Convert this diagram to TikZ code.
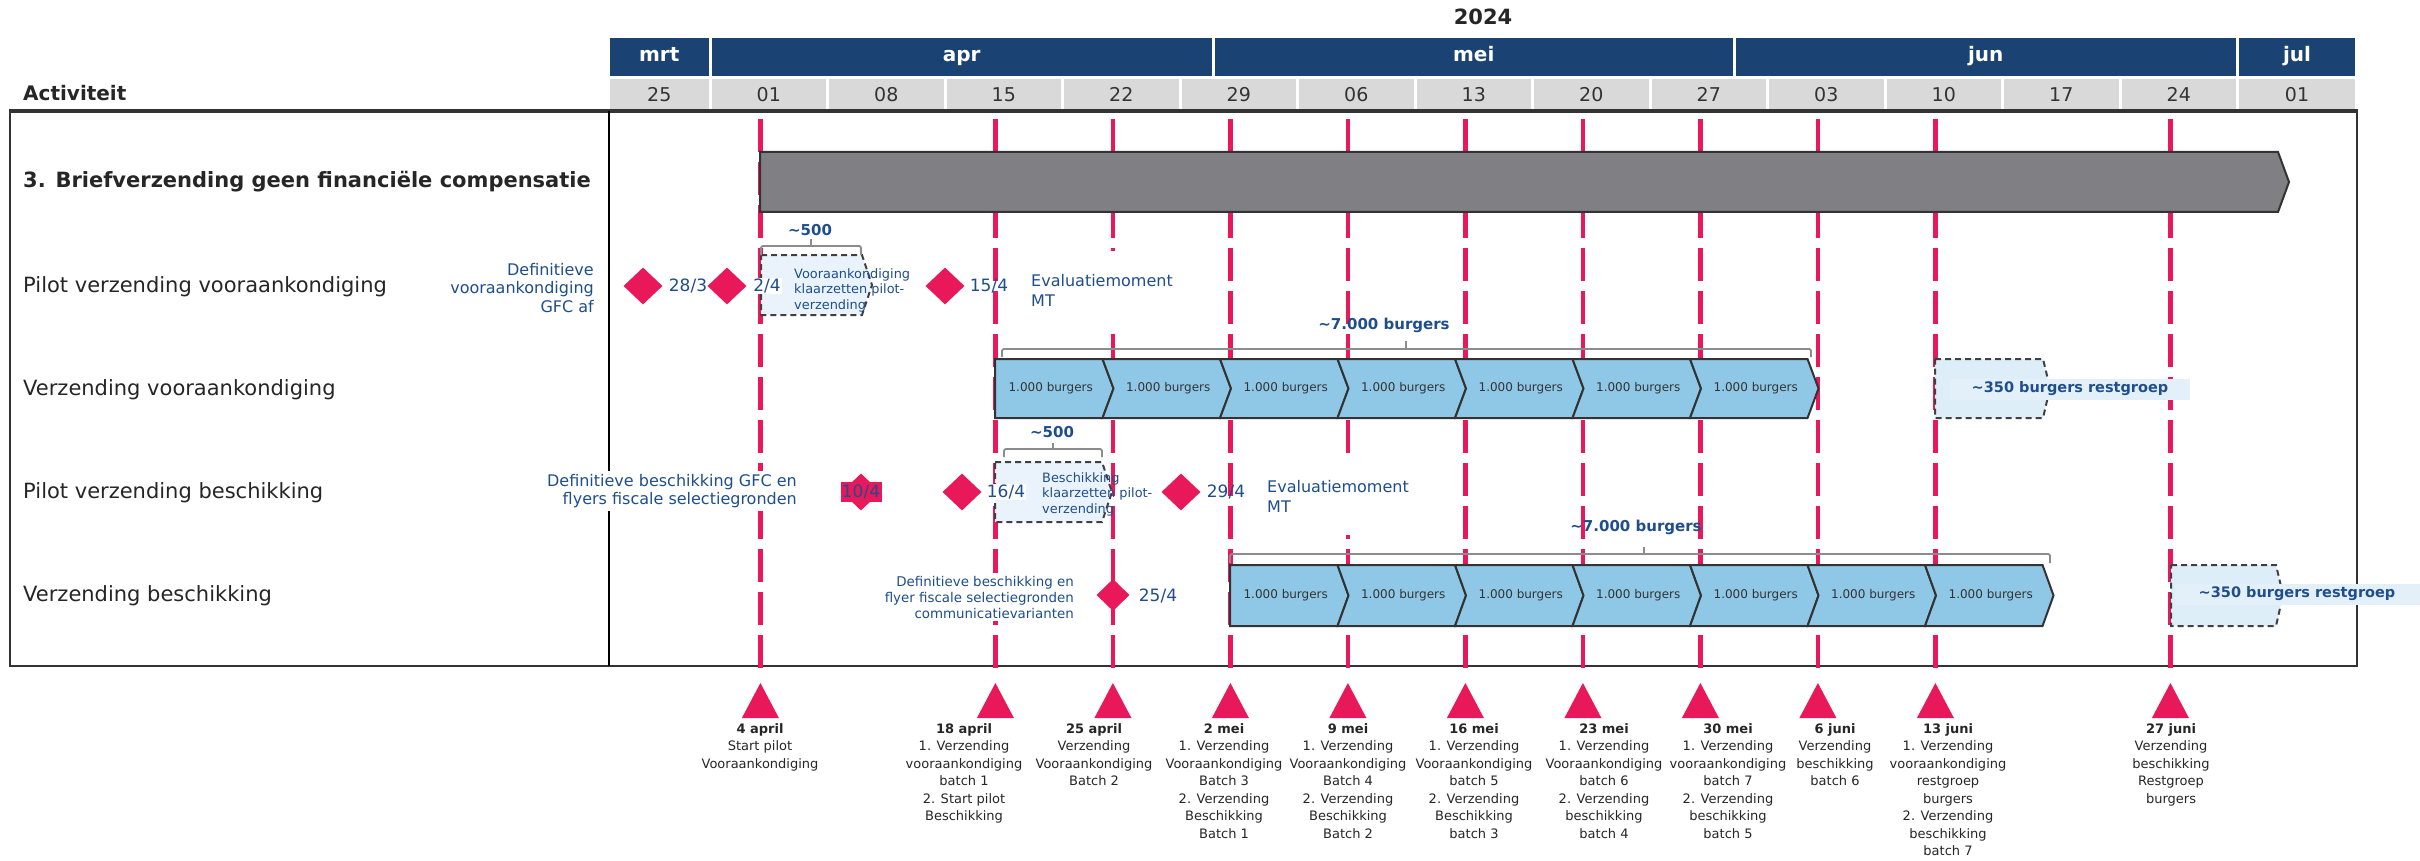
\documentclass[tikz,border=0pt]{standalone}
\usepackage{fontspec}
\setmainfont{DejaVu Sans}
\usetikzlibrary{shapes.geometric}
\definecolor{navy}{HTML}{1A4273}
\definecolor{wkgrey}{HTML}{D9D9D9}
\definecolor{crim}{HTML}{E8185A}
\definecolor{lblue}{HTML}{1F4E8C}
\definecolor{chev}{HTML}{8FC8E6}
\definecolor{pale}{HTML}{EAF3FB}
\definecolor{palebg}{HTML}{DDEEF9}
\definecolor{labbg}{HTML}{E3F0FA}
\definecolor{barg}{HTML}{808084}
\definecolor{txtg}{HTML}{333333}
\definecolor{frameg}{HTML}{333333}
\definecolor{brg}{HTML}{8C8C8C}
\newcommand{\myfs}[2]{\fontsize{#1}{#2}\selectfont}
\newcommand{\chevrow}[4]{%
  \foreach \k in {0,...,6}{%
    \pgfmathsetmacro{\xl}{#1+117.5*\k}%
    \pgfmathsetmacro{\xr}{#1+117.5*(\k+1)}%
    \pgfmathsetmacro{\ym}{(#2+#3)/2}%
    \ifnum\k=0
      \filldraw[chevst] (\xl,#2) -- ({\xr-10},#2) -- ({\xr+1},\ym) -- ({\xr-10},#3) -- (\xl,#3) -- cycle;
    \else
      \filldraw[chevst] ({\xl-10},#2) -- ({\xr-10},#2) -- ({\xr+1},\ym) -- ({\xr-10},#3) -- ({\xl-10},#3) -- ({\xl+1},\ym) -- cycle;
    \fi
    \node[chevtxt] (#4\k) at ({(\xl+\xr)/2-3},\ym) {1.000 burgers};
  }}
\begin{document}
\begin{tikzpicture}[x=1pt,y=-1pt,
  monthcell/.style={fill=navy,text=white,font=\bfseries\myfs{20}{24},minimum height=38,inner sep=0,text height=14,text depth=4},
  wkcell/.style={fill=wkgrey,text=txtg,font=\myfs{19}{23},minimum height=31.5,inner sep=0,text height=14,text depth=0},
  rowlab/.style={anchor=west,text=black!85,font=\myfs{21}{25},inner sep=0},
  redline/.style={draw=crim,line width=4.5,dash pattern=on 33 off 10,dash phase=36},
  chevst/.style={fill=chev,draw=frameg,line width=2},
  chevtxt/.style={text=txtg,font=\myfs{12}{14},inner sep=0},
  ms/.style={diamond,fill=crim,draw=none,inner sep=0,minimum width=39,minimum height=37},
  dlab/.style={text=lblue,font=\myfs{17}{20},inner sep=1},
  note/.style={text=lblue,font=\myfs{16}{18.5},fill=white,inner sep=3},
  eval/.style={text=lblue,font=\myfs{16}{20},fill=white,inner sep=3,anchor=west,align=left,minimum height=78},
  brack/.style={draw=brg,line width=1.8,rounded corners=2},
  btxt/.style={text=lblue,font=\bfseries\myfs{15}{18},inner sep=0},
  pilotbox/.style={fill=pale,draw=black!75,line width=2,dash pattern=on 6 off 4},
  pilottxt/.style={text=lblue,font=\myfs{12.9}{15.5},anchor=west,align=left,inner sep=0},
  restbox/.style={fill=palebg,draw=black!75,line width=2,dash pattern=on 6 off 4},
  resttxt/.style={fill=labbg,text=lblue,font=\bfseries\myfs{14.5}{17},minimum height=21,inner sep=0},
  blab/.style={anchor=north,align=center,text=black!85,font=\myfs{13}{17.5},inner sep=0},
  tri/.style={fill=crim}
]
\useasboundingbox (0,0) rectangle (2420,861);
\fill[white] (0,0) rectangle (2420,861);

% year
\node[font=\bfseries\myfs{21}{25},text=black!85] (year) at (1483,17) {2024};

% month cells
\foreach \lab/\l/\r [count=\i] in {mrt/610/708.5, apr/711.5/1212, mei/1215/1732.5, jun/1735.5/2236, jul/2239/2355}{
  \node[monthcell,minimum width={\r-\l}] (m\i) at ({(\l+\r)/2},57) {\lab};
}
% week cells
\foreach \lab/\l/\r [count=\i] in {25/610/708.5, 01/711.5/826, 08/829/943.5, 15/946.5/1061, 22/1064/1178.5, 29/1181.5/1296, 06/1299/1413.5, 13/1416.5/1531, 20/1534/1648.5, 27/1651.5/1766, 03/1769/1883.5, 10/1886.5/2001, 17/2004/2118.5, 24/2121.5/2236, 01/2239/2355}{
  \node[wkcell,minimum width={\r-\l}] (w\i) at ({(\l+\r)/2},94.5) {\lab};
}
\node[anchor=west,font=\bfseries\myfs{20}{24},text=black!85,inner sep=0] (act) at (23,93) {Activiteit};

% frame
\draw[frameg,line width=2.5] (10,111) -- (10,666) -- (2357,666) -- (2357,111);
\draw[frameg,line width=4] (9,111) -- (2358,111);
\draw[black,line width=1.5] (609,111) -- (609,666);

% red milestone lines
\foreach \x [count=\i] in {760.4,995.4,1112.9,1230.4,1347.9,1465.4,1582.9,1700.4,1817.9,1935.4,2170.4}{
  \coordinate (top\i) at (\x,112);
  \coordinate (bot\i) at (\x,673);
  \draw[redline] (top\i) -- (bot\i);
}

% row labels
\node[rowlab,font=\bfseries\myfs{21}{25}] (r1) at (23,182) {3. Briefverzending geen financiële compensatie};
\node[rowlab] (r2) at (23,287) {Pilot verzending vooraankondiging};
\node[rowlab] (r3) at (23,390) {Verzending vooraankondiging};
\node[rowlab] (r4) at (23,493) {Pilot verzending beschikking};
\node[rowlab] (r5) at (23,596) {Verzending beschikking};

% grey bar
\filldraw[fill=barg,draw=black!80,line width=2] (760,152) -- (2278,152) -- (2289,182) -- (2278,212) -- (760,212) -- cycle;

% ---- row 2: pilot verzending vooraankondiging
\node[note,align=right,anchor=east,minimum height=70] (n2) at (597,288) {Definitieve\\vooraankondiging\\GFC af};
\node[ms] (d1) at (643,286) {};
\node[ms] (d2) at (727,286) {};
\node[dlab] (l1) at (688,286) {28/3};
\filldraw[pilotbox] (761,255) -- (862,255) -- (872,285) -- (862,315) -- (761,315) -- cycle;
\node[dlab,fill=white] (l2) at (767,286) {2/4};
\node[pilottxt] (p1) at (794,290) {Vooraankondiging\\klaarzetten pilot-\\verzending};
\draw[brack] (761,255) -- (761,246) -- (861,246) -- (861,255);
\draw[brack] (811,246) -- (811,239);
\node[btxt] (b1) at (810,230) {\textasciitilde500};
\node[ms] (d3) at (945,286) {};
\node[dlab] (l3) at (989,286) {15/4};
\node[eval] (e1) at (1028,290) {Evaluatiemoment\\MT};

% ---- row 3: verzending vooraankondiging
\draw[brack] (1002,357) -- (1002,349) -- (1811,349) -- (1811,357);
\draw[brack] (1406,349) -- (1406,341);
\node[btxt] (b2) at (1384,325) {\textasciitilde7.000 burgers};
\chevrow{995}{359}{418}{va}
\filldraw[restbox] (1935,359) -- (2043,359) -- (2050,388) -- (2043,418) -- (1935,418) -- cycle;
\node[resttxt,minimum width=240] (rg1) at (2070,389) {\textasciitilde350 burgers restgroep};

% ---- row 4: pilot verzending beschikking
\node[note,align=right,anchor=east] (n4) at (800,491) {Definitieve beschikking GFC en\\flyers fiscale selectiegronden};
\node[ms] (d4) at (861,492) {};
\node[dlab,fill=crim,minimum width=41,minimum height=20,inner sep=0] (l4) at (861,492) {10/4};
\filldraw[pilotbox] (995,462) -- (1102,462) -- (1112,492) -- (1102,522) -- (995,522) -- cycle;
\node[ms] (d5) at (962,492) {};
\node[dlab,fill=white] (l5) at (1006,492) {16/4};
\node[pilottxt] (p2) at (1042,494) {Beschikking\\klaarzetten pilot-\\verzending};
\draw[brack] (1004,457) -- (1004,449) -- (1102,449) -- (1102,457);
\draw[brack] (1053,449) -- (1053,443);
\node[btxt] (b3) at (1052,432) {\textasciitilde500};
\node[ms] (d6) at (1181,492) {};
\node[dlab] (l6) at (1226,492) {29/4};
\node[eval] (e2) at (1264,496) {Evaluatiemoment\\MT};

% ---- row 5: verzending beschikking
\node[note,align=right,anchor=east,font=\myfs{13.4}{16}] (n5) at (1077,597) {Definitieve beschikking en\\flyer fiscale selectiegronden\\communicatievarianten};
\node[ms,minimum width=33,minimum height=32] (d7) at (1113,595) {};
\node[dlab] (l7) at (1158,596) {25/4};
\draw[brack] (1230,563) -- (1230,554) -- (2050,554) -- (2050,563);
\draw[brack] (1644,554) -- (1644,547);
\node[btxt] (b4) at (1636,527) {\textasciitilde7.000 burgers};
\chevrow{1230}{565}{626}{vb}
\filldraw[restbox] (2171,565) -- (2276,565) -- (2283,595) -- (2276,626) -- (2171,626) -- cycle;
\node[resttxt,minimum width=245] (rg2) at (2297,594) {\textasciitilde350 burgers restgroep};

% ---- bottom triangles and labels
\foreach \x in {760.4,995.4,1112.9,1230.4,1347.9,1465.4,1582.9,1700.4,1817.9,1935.4,2170.4}{
  \fill[tri] ({\x-18.5},718) -- (\x,683) -- ({\x+18.5},718) -- cycle;
}
\node[blab] (t1) at (760,723) {\textbf{4 april}\\Start pilot\\Vooraankondiging};
\node[blab] (t2) at (964,723) {\textbf{18 april}\\1. Verzending\\vooraankondiging\\batch 1\\2. Start pilot\\Beschikking};
\node[blab] (t3) at (1094,723) {\textbf{25 april}\\Verzending\\Vooraankondiging\\Batch 2};
\node[blab] (t4) at (1224,723) {\textbf{2 mei}\\1. Verzending\\Vooraankondiging\\Batch 3\\2. Verzending\\Beschikking\\Batch 1};
\node[blab] (t5) at (1348,723) {\textbf{9 mei}\\1. Verzending\\Vooraankondiging\\Batch 4\\2. Verzending\\Beschikking\\Batch 2};
\node[blab] (t6) at (1474,723) {\textbf{16 mei}\\1. Verzending\\Vooraankondiging\\batch 5\\2. Verzending\\Beschikking\\batch 3};
\node[blab] (t7) at (1604,723) {\textbf{23 mei}\\1. Verzending\\Vooraankondiging\\batch 6\\2. Verzending\\beschikking\\batch 4};
\node[blab] (t8) at (1728,723) {\textbf{30 mei}\\1. Verzending\\vooraankondiging\\batch 7\\2. Verzending\\beschikking\\batch 5};
\node[blab] (t9) at (1835,723) {\textbf{6 juni}\\Verzending\\beschikking\\batch 6};
\node[blab] (t10) at (1948,723) {\textbf{13 juni}\\1. Verzending\\vooraankondiging\\restgroep\\burgers\\2. Verzending\\beschikking\\batch 7};
\node[blab] (t11) at (2171,723) {\textbf{27 juni}\\Verzending\\beschikking\\Restgroep\\burgers};
\end{tikzpicture}
\end{document}
